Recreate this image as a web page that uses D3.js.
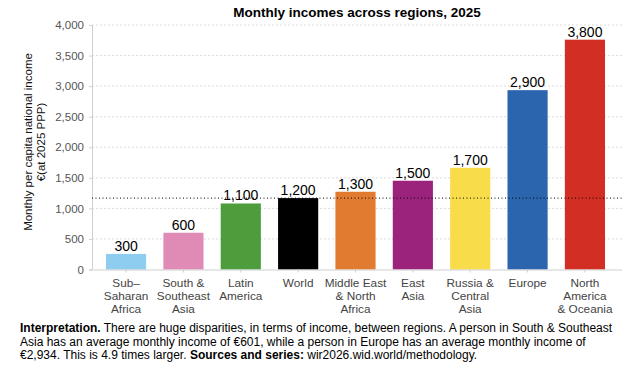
<!DOCTYPE html>
<html>
<head>
<meta charset="utf-8">
<script src="https://cdn.jsdelivr.net/npm/d3@7"></script>
<style>
  body { margin: 0; background: #fff; }
  svg { font-family: "Liberation Sans", Arial, sans-serif; }
</style>
</head>
<body>
<svg id="chart" width="640" height="377"></svg>
<script>
// データ
const regions = [
    ["Sub–", "Saharan", "Africa"],
    ["South &", "Southeast", "Asia"],
    ["Latin", "America"],
    ["World"],
    ["Middle East", "& North", "Africa"],
    ["East", "Asia"],
    ["Russia &", "Central", "Asia"],
    ["Europe"],
    ["North", "America", "& Oceania"]
];
const values = [255, 601, 1080, 1168, 1272, 1452, 1664, 2934, 3760];
const valueLabels = ["300", "600", "1,100", "1,200", "1,300", "1,500", "1,700", "2,900", "3,800"];
const colors = ["#8ecdf0", "#e08bb6", "#4e9d3c", "#000000", "#e07b30", "#9b237c", "#f8dc4a", "#2a65ae", "#d22e24"];
const yTicks = [0, 500, 1000, 1500, 2000, 2500, 3000, 3500, 4000];
const worldAverage = 1168;

const svg = d3.select("#chart");
const plotLeft = 92, plotRight = 622, plotTop = 25, plotBottom = 269.5;

// スケール
const x = d3.scaleBand()
    .domain(d3.range(values.length))
    .range([97.4, 613.6])
    .paddingInner(0.3)
    .paddingOuter(0.15);
const y = d3.scaleLinear().domain([0, 4000]).range([plotBottom, plotTop]);

// タイトル
svg.append("text")
    .attr("x", (plotLeft + plotRight) / 2)
    .attr("y", 17)
    .attr("text-anchor", "middle")
    .attr("font-weight", "bold")
    .attr("font-size", 13.5)
    .text("Monthly incomes across regions, 2025");

// グリッド線
svg.append("g")
    .selectAll("line")
    .data(yTicks.slice(1))
    .enter()
    .append("line")
    .attr("x1", plotLeft)
    .attr("x2", plotRight)
    .attr("y1", (d) => y(d))
    .attr("y2", (d) => y(d))
    .attr("stroke", "#d2d2d2")
    .attr("stroke-width", 0.8)
    .attr("stroke-dasharray", "2,2");

// Y軸
const yAxis = svg.append("g")
    .attr("transform", `translate(${plotLeft},0)`)
    .call(d3.axisLeft(y).tickValues(yTicks).tickSize(3).tickPadding(5).tickFormat(d3.format(",")));
yAxis.select(".domain").attr("stroke", "#d0d0d0");
yAxis.selectAll(".tick line").attr("stroke", "#d0d0d0");
yAxis.selectAll(".tick text")
    .attr("fill", "#555")
    .attr("font-size", 11.5)
    .attr("font-family", "Liberation Sans, Arial, sans-serif");

// Y軸タイトル
const yTitle = svg.append("text")
    .attr("transform", "translate(32,142) rotate(-90)")
    .attr("text-anchor", "middle")
    .attr("font-size", 11.5)
    .attr("fill", "#111");
yTitle.append("tspan").attr("x", 0).attr("y", 0).text("Monthly per capita national income");
yTitle.append("tspan").attr("x", 0).attr("y", 13).text("€(at 2025 PPP)");

// バー
svg.append("g")
    .selectAll("rect")
    .data(values)
    .enter()
    .append("rect")
    .attr("x", (d, i) => x(i))
    .attr("y", (d) => y(d))
    .attr("width", x.bandwidth())
    .attr("height", (d) => y(0) - y(d))
    .attr("fill", (d, i) => colors[i]);

// X軸
const xAxis = svg.append("g")
    .attr("transform", `translate(0,${plotBottom})`)
    .call(d3.axisBottom(x).tickSize(3).tickFormat(""));
xAxis.select(".domain").attr("d", `M${plotLeft},0.5H${plotRight}`).attr("stroke", "#d0d0d0");
xAxis.selectAll(".tick line").attr("stroke", "#d0d0d0");

// X軸ラベル
svg.append("g")
    .selectAll("text")
    .data(regions)
    .enter()
    .append("text")
    .attr("text-anchor", "middle")
    .attr("font-size", 11.8)
    .attr("fill", "#444")
    .each(function (lines, i) {
        const t = d3.select(this);
        lines.forEach((s, j) => {
            t.append("tspan")
                .attr("x", x(i) + x.bandwidth() / 2)
                .attr("y", 287 + j * 13)
                .text(s);
        });
    });

// 世界平均の点線
svg.append("line")
    .attr("x1", plotLeft)
    .attr("x2", plotRight)
    .attr("y1", y(worldAverage))
    .attr("y2", y(worldAverage))
    .attr("stroke", "#000")
    .attr("stroke-width", 1)
    .attr("stroke-dasharray", "1,2.5");

// 値ラベル
svg.append("g")
    .selectAll("text")
    .data(values)
    .enter()
    .append("text")
    .attr("x", (d, i) => x(i) + x.bandwidth() / 2)
    .attr("y", (d) => y(d) - 3)
    .attr("text-anchor", "middle")
    .attr("font-size", 14)
    .attr("fill", "#000")
    .text((d, i) => valueLabels[i]);

// 注記
const note = svg.append("text")
    .attr("font-size", 12)
    .attr("fill", "#000");
const noteLines = [
    [["Interpretation.", true], [" There are huge disparities, in terms of income, between regions. A person in South & Southeast", false]],
    [["Asia has an average monthly income of €601, while a person in Europe has an average monthly income of", false]],
    [["€2,934. This is 4.9 times larger. ", false], ["Sources and series:", true], [" wir2026.wid.world/methodology.", false]]
];
noteLines.forEach((parts, j) => {
    parts.forEach(([s, bold], k) => {
        const ts = note.append("tspan").text(s).attr("font-weight", bold ? "bold" : "normal");
        if (k === 0) ts.attr("x", 20).attr("y", 332 + j * 13.5);
    });
});
</script>
</body>
</html>
